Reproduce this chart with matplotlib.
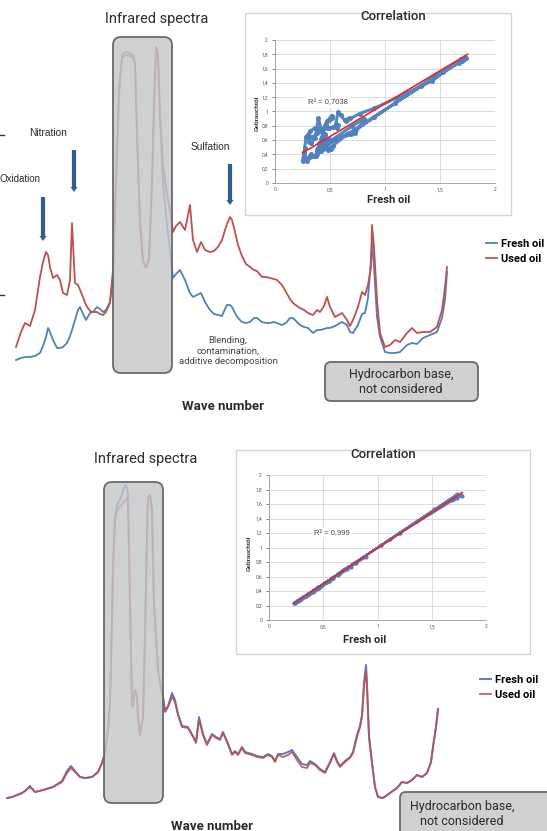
import numpy as np
import matplotlib
matplotlib.use("Agg")
import matplotlib.pyplot as plt
from matplotlib import font_manager
from matplotlib.patches import FancyBboxPatch, FancyArrow, Rectangle
from matplotlib.ticker import FuncFormatter, MultipleLocator

# ---------------- data ----------------
# top panel: wave-number positions and absorbance signals (arb. units)
top_wave = [16, 21, 25, 30, 35, 40, 43, 46, 48, 50, 53, 57, 60, 63, 67, 70, 72, 75, 78, 80,
            83, 86, 90, 93, 97, 100, 103, 106, 110, 113, 116, 119, 122, 126, 130, 133, 135, 137, 140, 143,
            146, 149, 152, 154, 156, 158, 160, 163, 167, 170, 173, 176, 180, 185, 188, 190, 193, 197, 201, 205,
            210, 214, 218, 222, 225, 227, 230, 232, 235, 238, 242, 246, 250, 254, 257, 262, 266, 270, 274, 277,
            282, 286, 290, 293, 297, 300, 304, 308, 313, 317, 320, 324, 327, 330, 335, 342, 347, 350, 353, 358,
            362, 365, 368, 371, 372, 374, 377, 380, 385, 390, 395, 400, 407, 412, 417, 423, 430, 437, 442, 445, 447]
top_used = [65, 80, 89, 86, 102, 135, 150, 160, 157, 145, 134, 137, 132, 119, 117, 132, 189, 129, 127, 122,
            115, 107, 101, 100, 100, 98, 97, 100, 109, 142, 232, 322, 357, 360, 359, 356, 350, 282, 192, 152,
            144, 154, 232, 312, 365, 360, 297, 247, 217, 202, 180, 186, 190, 182, 197, 207, 172, 160, 170, 162,
            160, 161, 165, 172, 182, 188, 195, 192, 180, 167, 156, 148, 145, 142, 141, 135, 135, 134, 133, 132,
            127, 120, 113, 109, 106, 104, 102, 99, 97, 102, 100, 106, 115, 105, 95, 99, 92, 86, 92, 105,
            120, 117, 127, 145, 187, 165, 112, 79, 65, 67, 72, 70, 79, 84, 79, 80, 80, 85, 102, 125, 145]
top_fresh = [52, 54, 55, 55, 56, 59, 66, 75, 84, 80, 72, 64, 64, 65, 69, 76, 82, 92, 102, 105,
             98, 92, 99, 100, 105, 103, 100, 102, 110, 137, 227, 317, 354, 357, 356, 354, 348, 277, 187, 150,
             144, 152, 227, 302, 362, 352, 297, 229, 187, 160, 134, 138, 142, 132, 124, 119, 115, 117, 119, 110,
             102, 98, 97, 96, 103, 107, 107, 105, 99, 94, 90, 89, 90, 94, 94, 90, 89, 89, 90, 89,
             87, 89, 94, 94, 90, 87, 85, 84, 79, 82, 82, 83, 84, 84, 86, 90, 87, 80, 79, 87,
             98, 99, 114, 152, 169, 145, 95, 75, 60, 59, 59, 60, 67, 69, 68, 74, 77, 80, 94, 112, 140]
top_norm = 208.0          # signal units per absorbance unit (top measurement)

# bottom panel
bot_wave = [7, 12, 17, 22, 25, 30, 35, 43, 53, 62, 67, 71, 75, 80, 85, 92, 98, 102, 105, 108,
            110, 112, 113, 115, 117, 120, 125, 127, 128, 130, 132, 133, 135, 137, 138, 140, 143, 145, 147, 148,
            150, 152, 154, 156, 158, 160, 163, 165, 168, 172, 175, 178, 182, 188, 193, 196, 199, 203, 207, 212,
            216, 220, 223, 227, 232, 235, 238, 242, 245, 252, 257, 263, 268, 272, 275, 278, 283, 288, 292, 297,
            302, 307, 310, 315, 320, 325, 330, 334, 337, 340, 345, 350, 353, 357, 360, 362, 364, 366, 367, 369,
            372, 375, 378, 383, 390, 397, 402, 407, 412, 417, 422, 427, 431, 433, 436, 438]
bot_used = [47, 48, 50, 52, 54, 58, 53, 55, 58, 63, 72, 77, 73, 68, 67, 68, 73, 82, 92, 115,
            142, 225, 275, 325, 335, 338, 345, 347, 340, 242, 142, 138, 155, 148, 128, 110, 128, 208, 308, 348,
            350, 335, 242, 208, 175, 162, 148, 133, 138, 148, 143, 130, 118, 117, 108, 102, 125, 110, 100, 110,
            107, 105, 112, 103, 90, 93, 90, 97, 92, 90, 88, 87, 90, 88, 83, 90, 88, 90, 93, 85,
            78, 77, 82, 80, 75, 72, 82, 91, 83, 78, 83, 87, 92, 108, 118, 128, 158, 175, 158, 108,
            82, 58, 48, 47, 52, 57, 63, 62, 65, 70, 68, 72, 83, 98, 118, 136]
bot_fresh = [47, 48, 50, 52, 54, 59, 53, 55, 58, 64, 74, 79, 74, 68, 67, 68, 73, 82, 92, 115,
             142, 225, 275, 327, 340, 345, 360, 358, 350, 244, 142, 138, 155, 148, 128, 110, 128, 208, 308, 348,
             350, 335, 242, 208, 175, 162, 148, 134, 139, 152, 145, 131, 119, 118, 109, 103, 128, 111, 101, 111,
             108, 106, 113, 104, 91, 94, 91, 98, 93, 91, 89, 88, 91, 89, 84, 91, 91, 93, 95, 88,
             81, 80, 84, 81, 76, 73, 83, 92, 84, 79, 84, 88, 93, 110, 119, 130, 162, 180, 160, 109,
             82, 58, 48, 47, 52, 57, 63, 62, 65, 70, 68, 72, 83, 98, 118, 136]
bot_norm = 202.0

# regression line
top_trend_x, top_trend_y = [0.25, 1.75], [0.42, 1.80]
top_r2, bot_r2 = "R² = 0,7038", "R² = 0,999"
corr_xticks = [0, 0.5, 1, 1.5, 2]
series_names = ["Fresh oil", "Used oil"]

# ---------------- style ----------------
names = {f.name for f in font_manager.fontManager.ttflist}
NARROW = [n for n in ["Liberation Sans Narrow", "Roboto", "DejaVu Sans"] if n in names] or ["DejaVu Sans"]
REG = [n for n in ["Liberation Sans", "Open Sans", "DejaVu Sans"] if n in names] or ["DejaVu Sans"]
plt.rcParams["font.family"] = NARROW

BLUE = "#4F81BD"
RED = "#C0504D"
ARROW = "#2f5b93"
TXT = "#2b2b2b"

W, H = 547, 831
fig = plt.figure(figsize=(W / 100, H / 100), dpi=100)
fig.patch.set_facecolor("white")

# spectra axes
ax1 = fig.add_axes([0, 1 - 415 / H, 1, 415 / H], zorder=1)
ax1.set_xlim(0, W)
ax1.set_ylim(-3, 412)
ax1.axis("off")
l_f1, = ax1.plot(top_wave, top_fresh, color=BLUE, lw=1.3, label=series_names[0])
l_u1, = ax1.plot(top_wave, top_used, color=RED, lw=1.3, label=series_names[1])

ax2 = fig.add_axes([0, 0, 1, 411 / H], zorder=1)
ax2.set_xlim(0, W)
ax2.set_ylim(14, 425)
ax2.axis("off")
l_f2, = ax2.plot(bot_wave, bot_fresh, color=BLUE, lw=1.4, label=series_names[0])
l_u2, = ax2.plot(bot_wave, bot_used, color=RED, lw=1.3, alpha=0.9, label=series_names[1])

# overlay in pixel coordinates for annotation boxes and texts
ov = fig.add_axes([0, 0, 1, 1], zorder=2)
ov.set_xlim(0, W)
ov.set_ylim(H, 0)
ov.axis("off")
ov.patch.set_alpha(0)

def gray_box(x0, y0, w, h, r=8):
    ov.add_patch(FancyBboxPatch((x0, y0), w, h, boxstyle=f"round,pad=0,rounding_size={r}",
                                fc=(0.77, 0.775, 0.785, 0.82), ec="#6a6a6a", lw=1.3))

# top panel annotations
ov.text(157, 19, "Infrared spectra", ha="center", va="center", fontsize=10.5, color=TXT)
gray_box(113, 37, 59, 336)
gray_box(325, 362, 153, 39, r=6)
ov.text(401, 382, "Hydrocarbon base,\nnot considered", ha="center", va="center",
        fontsize=9, color=TXT, linespacing=1.25)
ov.text(228, 351, "Blending,\ncontamination,\nadditive decomposition", ha="center", va="center",
        fontsize=6.8, color="#444444", linespacing=1.25)
ov.text(223, 407, "Wave number", ha="center", va="center", fontsize=9.5, color=TXT, fontweight="bold")
ov.text(0, 179, "Oxidation", ha="left", va="center", fontsize=7.0, color=TXT, family=REG)
ov.text(48, 133, "Nitration", ha="center", va="center", fontsize=7.3, color=TXT, family=REG)
ov.text(210, 147, "Sulfation", ha="center", va="center", fontsize=7.3, color=TXT, family=REG)
for (ax_, y0, y1) in [(43, 197, 241), (74, 150, 192), (230, 164, 205)]:
    ov.add_patch(FancyArrow(ax_, y0, 0, y1 - y0, width=4.2, head_width=7, head_length=5,
                            length_includes_head=True, color=ARROW, lw=0))
for yy in (135, 295):
    ov.plot([0, 4], [yy, yy], color="#333333", lw=1)

# bottom panel annotations
ov.text(146, 459, "Infrared spectra", ha="center", va="center", fontsize=10.5, color=TXT)
gray_box(104, 482, 59, 321)
gray_box(400, 792, 170, 60, r=6)
ov.text(462, 814, "Hydrocarbon base,\nnot considered", ha="center", va="center",
        fontsize=9, color=TXT, linespacing=1.25)
ov.text(212, 826, "Wave number", ha="center", va="center", fontsize=9.5, color=TXT, fontweight="bold")

# correlation frames
ov.add_patch(Rectangle((245, 13), 266, 202, fc="white", ec="#d4d4d4", lw=1))
ov.add_patch(Rectangle((236, 450), 294, 204, fc="white", ec="#d4d4d4", lw=1))

# legends
leg_kw = dict(loc="upper left", bbox_transform=fig.transFigure, frameon=False, handlelength=1.0,
              handletextpad=0.35, labelspacing=0.45, borderpad=0, borderaxespad=0,
              prop={"weight": "bold", "size": 8})
ax1.legend(handles=[l_f1, l_u1], bbox_to_anchor=(486 / W, 1 - 239 / H), **leg_kw)
ax2.legend(handles=[l_f2, l_u2], bbox_to_anchor=(480 / W, 1 - 675 / H), **leg_kw)

comma = FuncFormatter(lambda v, p: f"{v:g}".replace(".", ","))

def corr_axes(rect, fx, uy, tx, ty, r2, r2pos, title_pos, xl_pos, yl_pos, dense):
    ax = fig.add_axes(rect, zorder=3)
    ax.set_xlim(0, 2)
    ax.set_ylim(0, 2)
    ax.patch.set_alpha(0)
    ax.set_xticks(corr_xticks)
    ax.yaxis.set_major_locator(MultipleLocator(0.2))
    ax.xaxis.set_major_formatter(comma)
    ax.yaxis.set_major_formatter(comma)
    ax.grid(True, color="#d6d6d6", lw=0.6)
    ax.set_axisbelow(True)
    for s in ("top", "right"):
        ax.spines[s].set_visible(False)
    for s in ("left", "bottom"):
        ax.spines[s].set_color("#9a9a9a")
        ax.spines[s].set_linewidth(0.6)
    ax.tick_params(labelsize=3.6, colors="#555555", length=2, width=0.5, pad=3)
    ax.tick_params(axis="x", length=0)
    if dense:
        ax.plot(fx, uy, color=BLUE, lw=2.2, marker="o", ms=2.6, alpha=0.95, zorder=3)
    else:
        ax.plot(fx, uy, color=BLUE, lw=1.4, marker="o", ms=2.0, zorder=3)
    ax.plot(tx, ty, color="#e8262a", lw=1.2, zorder=4)
    ax.text(r2pos[0], r2pos[1], r2, ha="center", va="center", fontsize=5.5, color="#444444",
            family=REG, bbox=dict(fc="white", ec="none", pad=1.5), zorder=5)
    ax.set_title("Correlation", x=title_pos[0], y=title_pos[1], fontsize=9.5, color=TXT, va="center",
                 fontweight="medium")
    ax.set_xlabel("Fresh oil", fontsize=8, fontweight="bold", color=TXT)
    ax.xaxis.label.set_va("center")
    ax.xaxis.set_label_coords(*xl_pos)
    ax.set_ylabel("Gebrauchtöl", fontsize=4.3, fontweight="bold", color=TXT, family=REG)
    ax.yaxis.label.set_va("center")
    ax.yaxis.set_label_coords(*yl_pos)
    return ax

top_fx = np.array(top_fresh) / top_norm
top_uy = np.array(top_used) / top_norm
bot_fx = np.array(bot_fresh) / bot_norm
bot_uy = np.array(bot_used) / bot_norm

# linear fit of the bottom correlation (R² ≈ 0.999)
k, b = np.polyfit(bot_fx, bot_uy, 1)
bot_trend_x = [bot_fx.min(), bot_fx.max()]
bot_trend_y = [k * bot_fx.min() + b, k * bot_fx.max() + b]

corr_axes([275 / W, 1 - 183 / H, 220 / W, 143 / H], top_fx, top_uy, top_trend_x, top_trend_y,
          top_r2, (0.48, 1.13), (0.536, 1.105), (0.518, -0.119), (-0.082, 0.49), True)
corr_axes([269 / W, 1 - 620 / H, 217 / W, 145 / H], bot_fx, bot_uy, bot_trend_x, bot_trend_y,
          bot_r2, (0.58, 1.19), (0.525, 1.083), (0.442, -0.138), (-0.092, 0.462), False)

fig.savefig("out.png", dpi=100)
